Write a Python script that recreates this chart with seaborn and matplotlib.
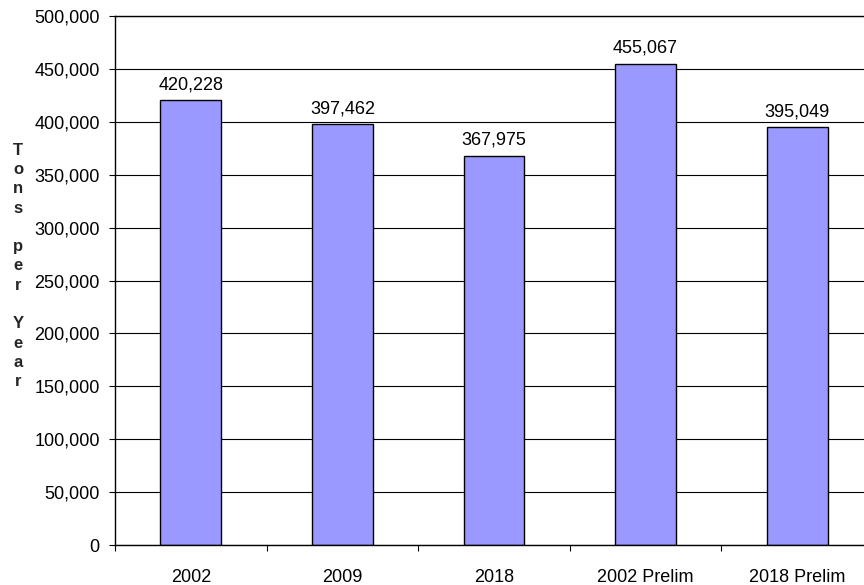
import numpy as np
import pandas as pd
import matplotlib
matplotlib.use("Agg")
import matplotlib.pyplot as plt
import seaborn as sns
from matplotlib.ticker import FuncFormatter, FixedLocator

# data
categories = ["2002", "2009", "2018", "2002 Prelim", "2018 Prelim"]
tons = [420228, 397462, 367975, 455067, 395049]

sns.set_style("white")
plt.rcParams['font.family'] = ['Liberation Sans', 'DejaVu Sans']

df = pd.DataFrame({'cat': categories, 'tons': tons})

fig = plt.figure(figsize=(8.64, 5.85), dpi=100)
# plot area runs a bit past the right edge, like the source image
ax = fig.add_axes([115/864, 40/585, (873-115)/864, (545-16)/585])

sns.barplot(x='cat', y='tons', data=df, color="#9999FF", saturation=1,
            width=0.4, edgecolor="black", linewidth=1, ax=ax)

ax.set_xlim(-0.5, len(categories) - 0.5)
ax.set_ylim(0, 500000)
ax.set_yticks(np.arange(0, 500001, 50000))
ax.yaxis.set_major_formatter(FuncFormatter(lambda v, p: f"{int(v):,}"))
ax.grid(axis='y', color='black', linewidth=0.8)
ax.set_axisbelow(True)

for sp in ['left', 'bottom', 'top']:
    ax.spines[sp].set_color('black')
    ax.spines[sp].set_linewidth(1)
ax.spines['right'].set_visible(False)

ax.tick_params(axis='y', which='major', left=True, length=4, width=0.8,
               color='black', pad=7, labelsize=13, labelcolor='black')
ax.tick_params(axis='x', which='major', length=0, pad=17, labelsize=13,
               labelcolor='black')
ax.xaxis.set_minor_locator(FixedLocator(np.arange(-0.5, len(categories), 1)))
ax.tick_params(axis='x', which='minor', bottom=True, length=4, width=0.8,
               color='black')
ax.set_xlabel("")
ax.set_ylabel("")

for i, v in enumerate(tons):
    ax.annotate(f"{v:,}", (i, v), xytext=(0, 5), textcoords='offset points',
                ha='center', va='bottom', fontsize=13, color='black')

fig.text(18/864, 1 - 266/585, "T\no\nn\ns\n\np\ne\nr\n\nY\ne\na\nr",
         ha='center', va='center', fontsize=12, fontweight='bold',
         linespacing=1.36)

fig.savefig("out.png", dpi=100)
